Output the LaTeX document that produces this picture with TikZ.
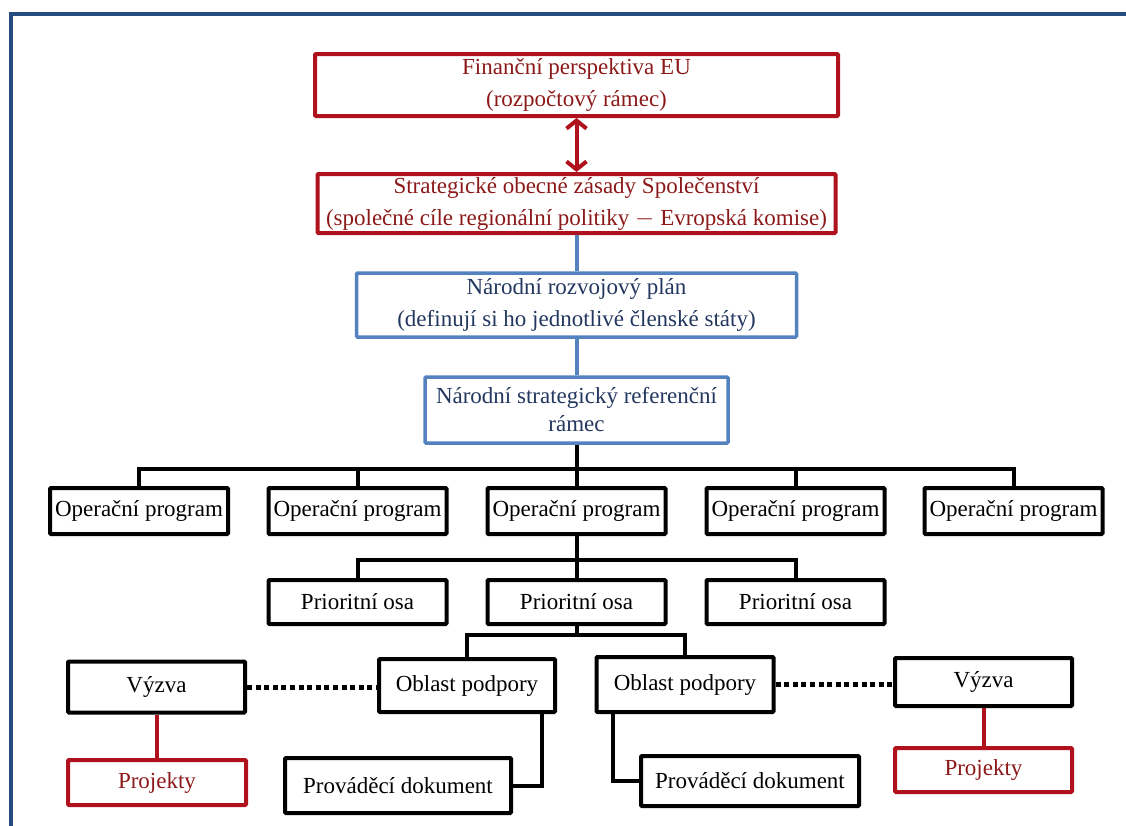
\documentclass[tikz,border=0pt]{standalone}
\usepackage{fontspec}
\setmainfont{Liberation Serif}
\usetikzlibrary{arrows.meta, calc, positioning}
\definecolor{frameblue}{RGB}{36,76,128}
\definecolor{boxred}{RGB}{175,18,28}
\definecolor{txtred}{RGB}{140,25,25}
\definecolor{boxblue}{RGB}{84,130,190}
\definecolor{txtblue}{RGB}{35,55,95}
\tikzset{
  box/.style={draw, line width=4pt, rounded corners=1pt, align=center, inner sep=0pt, font=\fontsize{23}{32}\selectfont},
  redbox/.style={box, draw=boxred, text=txtred},
  bluebox/.style={box, draw=boxblue, line width=3.5pt, text=txtblue},
  blkbox/.style={box, draw=black, minimum width=178pt},
  link/.style={line width=4pt},
  redlink/.style={line width=4pt, draw=boxred},
  bluelink/.style={line width=4pt, draw=boxblue},
  dotlink/.style={line width=5pt, dash pattern=on 5pt off 3.6pt}
}

\begin{document}
\begin{tikzpicture}[x=1pt, y=-1pt]
    \useasboundingbox (0,0) rectangle (1126,825);
    \draw[frameblue, line width=4pt] (1130,14) -| (11,830);

    \node[redbox, minimum width=523pt, minimum height=62pt] (fin) at (576.5, 85) {Finanční perspektiva EU\\(rozpočtový rámec)};
    \node[redbox, minimum width=518pt, minimum height=59pt] (soz) at (576.5, 203.5) {Strategické obecné zásady Společenství\\(společné cíle regionální politiky $-$ Evropská komise)};
    \node[bluebox, minimum width=440pt, minimum height=64pt] (nrp) at (576.5, 305) {Národní rozvojový plán\\(definují si ho jednotlivé členské státy)};
    \node[bluebox, minimum width=303pt, minimum height=66pt, font=\fontsize{23}{28}\selectfont] (nsrr) at (576.5, 410) {Národní strategický referenční\\rámec};

    \coordinate (bus1) at (576.5, 469);
    \node[blkbox, minimum height=46pt] (opA) at (139, 511) {Operační program};
    \node[blkbox, minimum height=46pt] (opB) at (357.5, 511) {Operační program};
    \node[blkbox, minimum height=46pt] (opC) at (576.5, 511) {Operační program};
    \node[blkbox, minimum height=46pt] (opD) at (795.5, 511) {Operační program};
    \node[blkbox, minimum height=46pt] (opE) at (1013.5, 511) {Operační program};

    \coordinate (bus2) at (576.5, 560);
    \node[blkbox, minimum height=44pt] (poB) at (357.5, 602) {Prioritní osa};
    \node[blkbox, minimum height=44pt] (poC) at (576.5, 602) {Prioritní osa};
    \node[blkbox, minimum height=44pt] (poD) at (795.5, 602) {Prioritní osa};

    \coordinate (bus3) at (576.5, 635);
    \node[blkbox, minimum width=176pt, minimum height=53pt] (obL) at (467, 685.5) {Oblast podpory};
    \node[blkbox, minimum width=177pt, minimum height=55pt] (obR) at (685, 684.5) {Oblast podpory};
    \node[blkbox, minimum width=177pt, minimum height=51pt] (vzL) at (156.5, 687) {Výzva};
    \node[blkbox, minimum width=177pt, minimum height=48pt] (vzR) at (983.5, 682) {Výzva};
    \node[redbox, minimum width=178pt, minimum height=45pt] (prL) at (157, 782.5) {Projekty};
    \node[redbox, minimum width=177pt, minimum height=44pt] (prR) at (983.5, 770) {Projekty};
    \node[blkbox, minimum width=226pt, minimum height=55pt] (pdL) at (398, 785.5) {Prováděcí dokument};
    \node[blkbox, minimum width=218pt, minimum height=50pt] (pdR) at (750, 781) {Prováděcí dokument};

    \draw[redlink, {Straight Barb[length=8pt, width=20pt]}-{Straight Barb[length=8pt, width=20pt]}] (fin.south) -- (soz.north);
    \draw[bluelink] (soz.south) -- (nrp.north);
    \draw[bluelink] (nrp.south) -- (nsrr.north);
    \draw[link] (nsrr.south) -- (opC.north);
    \foreach \n in {opA, opB, opD, opE}
      \draw[link] (\n.north) |- (bus1);
    \draw[link] (opC.south) -- (poC.north);
    \foreach \n in {poB, poD}
      \draw[link] (\n.north) |- (bus2);
    \draw[link] (poC.south) -- (bus3);
    \foreach \n in {obL, obR}
      \draw[link] (\n.north) |- (bus3);
    \draw[link] ([xshift=-15pt]obL.south east) |- (pdL.east);
    \draw[link] ([xshift=18pt]obR.south west) |- (pdR.west);
    \draw[dotlink] (vzL.east) -- (vzL.east -| obL.west);
    \draw[dotlink] (obR.east) -- (obR.east -| vzR.west);
    \draw[redlink] (vzL.south) -- (vzL.south |- prL.north);
    \draw[redlink] (vzR.south) -- (vzR.south |- prR.north);
  \end{tikzpicture}
\end{document}
